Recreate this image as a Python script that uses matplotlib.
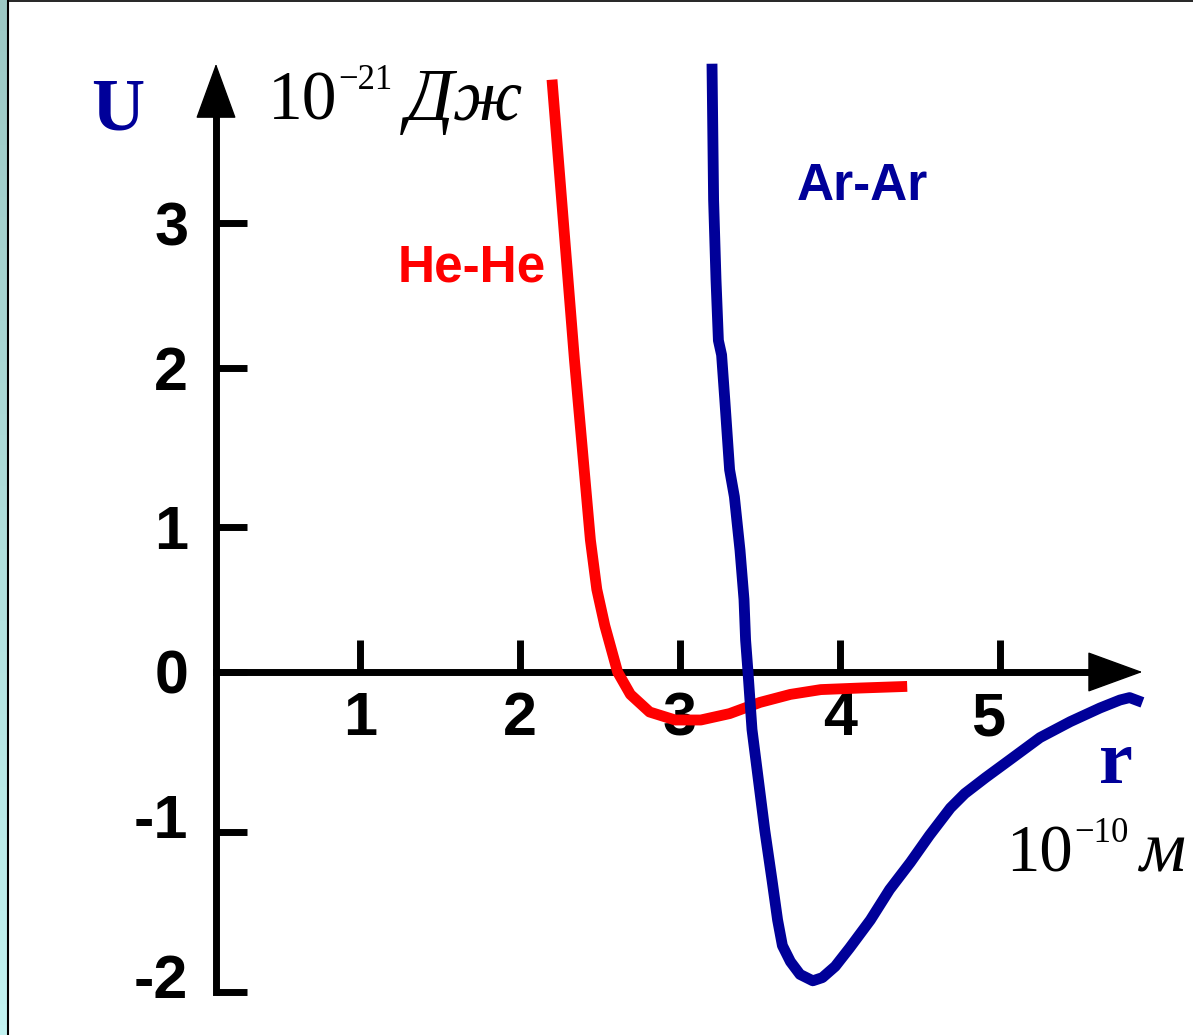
import numpy as np
import matplotlib.pyplot as plt
from matplotlib.colors import LinearSegmentedColormap
from matplotlib.transforms import ScaledTranslation

# He-He pair potential, r in 1e-10 m, U in 1e-21 J
r_he = [2.20, 2.34, 2.44, 2.48, 2.53, 2.61, 2.69, 2.81, 2.97, 3.13, 3.31,
        3.50, 3.69, 3.88, 4.13, 4.42]
u_he = [3.99, 2.06, 0.91, 0.57, 0.32, 0.0, -0.14, -0.25, -0.30, -0.30, -0.26,
        -0.19, -0.14, -0.11, -0.10, -0.09]

# Ar-Ar pair potential
r_ar = [3.20, 3.21, 3.225, 3.24, 3.26, 3.28, 3.31, 3.34, 3.375, 3.40, 3.41,
        3.425, 3.45, 3.49, 3.53, 3.575, 3.61, 3.64, 3.69, 3.75, 3.83, 3.89,
        3.97, 4.06, 4.19, 4.31, 4.44, 4.56, 4.69, 4.78, 4.91, 5.06, 5.25,
        5.44, 5.625, 5.75, 5.81, 5.89]
u_ar = [4.10, 3.16, 2.61, 2.19, 2.09, 1.80, 1.36, 1.19, 0.84, 0.50, 0.22,
        0.0, -0.36, -0.675, -0.99, -1.30, -1.55, -1.71, -1.81, -1.89, -1.93,
        -1.91, -1.84, -1.725, -1.55, -1.36, -1.19, -1.02, -0.85, -0.76,
        -0.66, -0.55, -0.41, -0.31, -0.225, -0.175, -0.16, -0.19]

x_ticks = [1, 2, 3, 4, 5]
x_labels = ['1', '2', '3', '4', '5']
y_ticks = [-2, -1, 0, 1, 2, 3]
y_labels = ['-2', '-1', '0', '1', '2', '3']

red = '#ff0000'
blue = '#000099'
W, H = 1193, 1035

# the hand-drawn U axis is not evenly spaced
u_knots = [-2.27, -2, -1, 0, 1, 2, 3, 4.54]
u_pos = [-1035, -992, -832, -672, -527, -368, -223, 0]


def fwd(v):
    return np.interp(v, u_knots, u_pos)


def inv(p):
    return np.interp(p, u_pos, u_knots)


def fpx(x, y):
    return x / W, 1 - y / H


fig = plt.figure(figsize=(W / 100, H / 100), dpi=100)
ax = fig.add_axes([0, 0, 1, 1])
ax.set_yscale('function', functions=(fwd, inv))
ax.set_xlim(-1.25, (W - 200) / 160)
ax.set_ylim(-2.27, 4.54)

for s in ['top', 'right']:
    ax.spines[s].set_visible(False)
ax.spines['left'].set_position(('data', 0.1))
ax.spines['left'].set_bounds(-2, 3.8)
ax.spines['bottom'].set_position(('data', 0))
ax.spines['bottom'].set_bounds(0.1, 5.6)
for s in ['left', 'bottom']:
    ax.spines[s].set_linewidth(5)
    ax.spines[s].set_capstyle('projecting')

ax.set_xticks(x_ticks, x_labels)
ax.set_yticks(y_ticks, y_labels)
ax.minorticks_off()
ax.tick_params(axis='x', direction='in', length=23, width=5, pad=14)
ax.tick_params(axis='y', direction='in', length=22, width=5, pad=20)
for lab in ax.get_xticklabels() + ax.get_yticklabels():
    lab.set_fontfamily('Liberation Sans')
    lab.set_fontweight('bold')
    lab.set_fontsize(44)

# the hand-placed labels sit a little off their ticks
for tick in ax.yaxis.get_major_ticks():
    if tick.get_loc() < 0:
        tick.label1.set_transform(tick.label1.get_transform()
                                  + ScaledTranslation(0, 0.16, fig.dpi_scale_trans))
for tick in ax.xaxis.get_major_ticks():
    if tick.get_loc() == 5:
        tick.label1.set_transform(tick.label1.get_transform()
                                  + ScaledTranslation(-0.12, 0, fig.dpi_scale_trans))

# arrow heads
head = '-|>,head_length=3.7,head_width=1.35'
ax.annotate('', xy=(0.1, 4.10), xytext=(0.1, 3.6),
            arrowprops=dict(arrowstyle=head, color='k', lw=1, shrinkA=0, shrinkB=0))
ax.annotate('', xy=(5.89, 0), xytext=(5.4, 0),
            arrowprops=dict(arrowstyle=head, color='k', lw=1, shrinkA=0, shrinkB=0))

ax.plot(r_he, u_he, color=red, lw=7.8, zorder=3,
        solid_capstyle='butt', solid_joinstyle='round')
ax.plot(r_ar, u_ar, color=blue, lw=7.8, zorder=4,
        solid_capstyle='butt', solid_joinstyle='round')

ax.text(*fpx(472, 268), 'He-He', transform=fig.transFigure, ha='center', va='center',
        color=red, fontsize=37, fontweight='bold', family='Liberation Sans')
ax.text(*fpx(862, 187), 'Ar-Ar', transform=fig.transFigure, ha='center', va='center',
        color=blue, fontsize=37, fontweight='bold', family='Liberation Sans')

serif = 'Liberation Serif'
fig.text(*fpx(118, 129), 'U', ha='center', va='baseline', color=blue,
         fontsize=53, fontweight='bold', family=serif)
fig.text(*fpx(1116, 783), 'r', ha='center', va='baseline', color=blue,
         fontsize=55, fontweight='bold', family=serif)

# unit labels
fig.text(*fpx(268, 120), '10', ha='left', va='baseline', fontsize=50, family=serif)
fig.text(*fpx(338, 89), '\u221221', ha='left', va='baseline', fontsize=25, family=serif)
fig.text(*fpx(406, 120), 'Дж', ha='left', va='baseline', fontsize=54,
         family=serif, style='italic')
fig.text(*fpx(1006, 872), '10', ha='left', va='baseline', fontsize=48, family=serif)
fig.text(*fpx(1074, 842), '\u221210', ha='left', va='baseline', fontsize=25, family=serif)
fig.text(*fpx(1139, 872), 'м', ha='left', va='baseline', fontsize=52,
         family=serif, style='italic')

# frame strip on the left and top edge
strip = fig.add_axes([0, 0, 7 / W, 1])
strip_cmap = LinearSegmentedColormap.from_list('strip', ['#9cc8c4', '#c2f3f1'])
strip.imshow(np.linspace(0, 1, 100)[:, None], aspect='auto', cmap=strip_cmap)
strip.axis('off')
fig.add_artist(plt.Line2D([8 / W, 8 / W], [0, 1], color='k', lw=1.5))
fig.add_artist(plt.Line2D([8 / W, 1], [1 - 0.5 / H, 1 - 0.5 / H], color='k', lw=1.2))

fig.savefig('out.png', dpi=100)
